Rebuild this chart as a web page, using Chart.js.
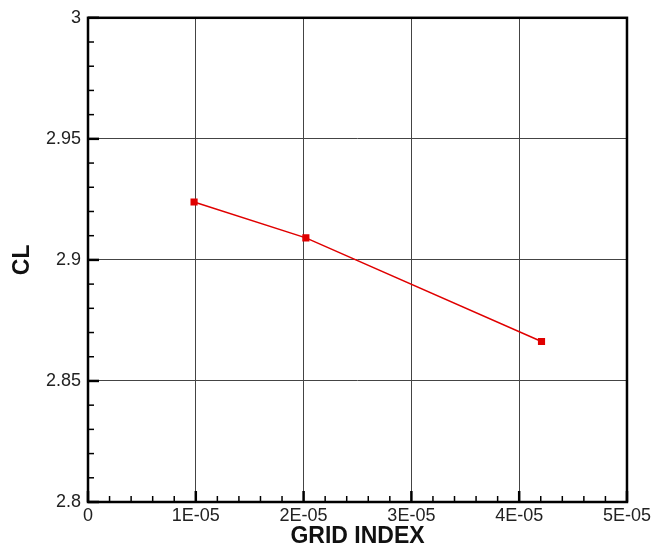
<!DOCTYPE html>
<html>
<head>
<meta charset="utf-8">
<script src="https://cdn.jsdelivr.net/npm/chart.js@4.4.0/dist/chart.umd.min.js"></script>
<style>
  html, body { margin: 0; padding: 0; background: #fff; }
  #wrap { width: 654px; height: 545px; }
</style>
</head>
<body>
<div id="wrap"><canvas id="clChart" width="654" height="545"></canvas></div>
<script>
// CL vs grid index
const gridIndex = [0.984e-5, 2.021e-5, 4.207e-5];
const clValues = [2.9239, 2.9091, 2.8663];
const xTickLabels = ["0", "1E-05", "2E-05", "3E-05", "4E-05", "5E-05"];
const yTickLabels = ["2.8", "2.85", "2.9", "2.95", "3"];

// frame + inward ticks like the original plot
const frameTicks = {
  id: "frameTicks",
  afterDraw(chart) {
    const { ctx, chartArea: a, scales } = chart;
    const xs = scales.x, ys = scales.y;
    ctx.save();
    ctx.strokeStyle = "#000";
    const xStep = 1e-5 / 5, yStep = 0.05 / 5;
    for (let i = 0; i <= 25; i++) {
      const px = xs.getPixelForValue(i * xStep);
      const len = i % 5 === 0 ? 11 : 6;
      ctx.lineWidth = i % 5 === 0 ? 2.5 : 1.5;
      ctx.beginPath();
      ctx.moveTo(px, a.bottom);
      ctx.lineTo(px, a.bottom - len);
      ctx.stroke();
    }
    for (let i = 0; i <= 20; i++) {
      const py = ys.getPixelForValue(2.8 + i * yStep);
      const len = i % 5 === 0 ? 11 : 6;
      ctx.lineWidth = i % 5 === 0 ? 2.5 : 1.5;
      ctx.beginPath();
      ctx.moveTo(a.left, py);
      ctx.lineTo(a.left + len, py);
      ctx.stroke();
    }
    ctx.lineWidth = 2.5;
    ctx.strokeRect(a.left, a.top, a.right - a.left, a.bottom - a.top);
    ctx.restore();
  },
};

new Chart(document.getElementById("clChart").getContext("2d"), {
  type: "scatter",
  data: {
    datasets: [
      {
        data: gridIndex.map((x, i) => ({ x: x, y: clValues[i] })),
        showLine: true,
        borderColor: "#e00000",
        borderWidth: 1.5,
        backgroundColor: "#e00000",
        pointStyle: "rect",
        pointRadius: 4,
      },
    ],
  },
  options: {
    responsive: false,
    animation: false,
    layout: { padding: { left: 0, top: 15, right: 26, bottom: 0 } },
    plugins: { legend: { display: false }, tooltip: { enabled: false } },
    scales: {
      x: {
        type: "linear",
        min: 0,
        max: 5e-5,
        afterFit: (s) => { s.height = 43; },
        afterBuildTicks: (s) => { s.ticks = xTickLabels.map((t, i) => ({ value: i * 1e-5 })); },
        ticks: {
          callback: (v, i) => xTickLabels[i],
          font: { family: "Liberation Sans", size: 18 },
          color: "#222",
          padding: 3,
          maxRotation: 0,
        },
        grid: { color: "#444", lineWidth: 1, drawTicks: false },
        border: { display: false },
        title: {
          display: true,
          text: "GRID INDEX",
          font: { family: "Liberation Sans", size: 23, weight: "bold", lineHeight: 0.74 },
          color: "#111",
          padding: { top: 0, bottom: 0 },
        },
      },
      y: {
        type: "linear",
        min: 2.8,
        max: 3,
        afterFit: (s) => { s.width = 88; },
        afterBuildTicks: (s) => { s.ticks = yTickLabels.map((t) => ({ value: parseFloat(t) })); },
        ticks: {
          callback: (v, i) => yTickLabels[i],
          font: { family: "Liberation Sans", size: 18 },
          color: "#222",
          padding: 7,
        },
        grid: { color: "#444", lineWidth: 1, drawTicks: false },
        border: { display: false },
        title: {
          display: true,
          text: "CL",
          font: { family: "Liberation Sans", size: 23, weight: "bold", lineHeight: 1.96 },
          color: "#111",
          padding: { top: 0, bottom: 0 },
        },
      },
    },
  },
  plugins: [frameTicks],
});
</script>
</body>
</html>
